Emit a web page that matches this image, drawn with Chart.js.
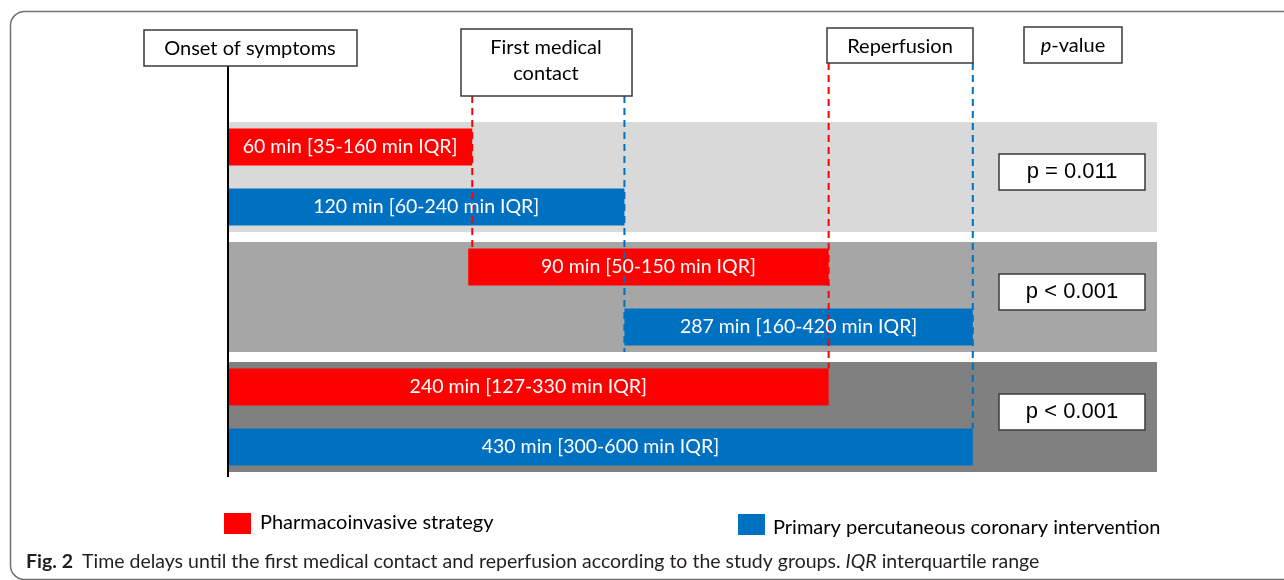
<!DOCTYPE html>
<html>
<head>
<meta charset="utf-8">
<script src="https://cdn.jsdelivr.net/npm/chart.js@4.4.1/dist/chart.umd.min.js"></script>
<style>
  html, body { margin: 0; padding: 0; background: #fff; }
</style>
</head>
<body>
<canvas id="delayChart" width="1284" height="580"></canvas>
<script>
// rows of the figure, top to bottom
const rowLabels = ['PI onset-FMC', 'PPCI onset-FMC', 'PI FMC-reperfusion', 'PPCI FMC-reperfusion', 'PI onset-reperfusion', 'PPCI onset-reperfusion'];
const barTexts = ['60 min [35-160 min IQR]', '120 min [60-240 min IQR]', '90 min [50-150 min IQR]', '287 min [160-420 min IQR]', '240 min [127-330 min IQR]', '430 min [300-600 min IQR]'];

// bars on the schematic timeline (the figure is not drawn to scale)
const piBars = [[0, 61], null, [60, 150], null, [0, 150], null];
const ppciBars = [null, [0, 99], null, [99, 186], null, [0, 186]];

// timeline marks: onset, first medical contact, reperfusion
const markNames = ['Onset of symptoms', 'First medical contact', 'Reperfusion'];
const piMarks = [0, 61, 150];
const ppciMarks = [0, 99, 186];

// background bands, one per comparison
const bandLabels = ['Onset to first medical contact', 'First medical contact to reperfusion', 'Onset to reperfusion'];
const bandRanges = [[0, 232], [0, 232], [0, 232]];
const pValues = ['p = 0.011', 'p < 0.001', 'p < 0.001'];

const seriesNames = ['Pharmacoinvasive strategy', 'Primary percutaneous coronary intervention'];

const RED = '#ff0000';
const BLUE = '#0070c0';
const BOXFONT = 'Lato, "Open Sans", sans-serif';

function box(ctx, x, y, w, h) {
    ctx.save();
    ctx.fillStyle = '#ffffff';
    ctx.fillRect(x, y, w, h);
    ctx.strokeStyle = '#3a3a3a';
    ctx.lineWidth = 1.5;
    ctx.strokeRect(x, y, w, h);
    ctx.restore();
}

function dashed(ctx, x, y0, y1, color) {
    ctx.save();
    ctx.strokeStyle = color;
    ctx.lineWidth = 2;
    ctx.setLineDash([7, 5]);
    ctx.beginPath();
    ctx.moveTo(x, y0);
    ctx.lineTo(x, y1);
    ctx.stroke();
    ctx.restore();
}

const figurePlugin = {
    id: 'figure',
    beforeDraw(chart) {
        const ctx = chart.ctx;
        ctx.save();
        ctx.fillStyle = '#fff';
        ctx.fillRect(0, 0, chart.width, chart.height);
        // frame around the figure
        ctx.strokeStyle = '#707070';
        ctx.lineWidth = 1.5;
        ctx.beginPath();
        ctx.roundRect(10.5, 11.5, 1400, 568, 14);
        ctx.stroke();
        ctx.restore();
    },
    afterDatasetsDraw(chart) {
        const ctx = chart.ctx;
        const x = chart.scales.x;
        const yb = chart.scales.yBand;
        const area = chart.chartArea;
        const pi = chart.getDatasetMeta(1).data;
        const ppci = chart.getDatasetMeta(2).data;
        const top = el => el.y - el.height / 2;

        // dashed guides from the header boxes down to the bars
        dashed(ctx, x.getPixelForValue(piMarks[1]), 96, top(pi[2]), RED);
        dashed(ctx, x.getPixelForValue(ppciMarks[1]), 96, yb.getPixelForValue(1) + 55, BLUE);
        dashed(ctx, x.getPixelForValue(piMarks[2]), 63, top(pi[4]), RED);
        dashed(ctx, x.getPixelForValue(ppciMarks[2]), 63, top(ppci[5]), BLUE);

        // onset line
        ctx.save();
        ctx.strokeStyle = '#000';
        ctx.lineWidth = 2;
        ctx.beginPath();
        ctx.moveTo(x.getPixelForValue(piMarks[0]), 66);
        ctx.lineTo(x.getPixelForValue(piMarks[0]), area.bottom);
        ctx.stroke();
        ctx.restore();

        // labels inside the bars
        ctx.save();
        ctx.fillStyle = '#fff';
        ctx.font = '19.5px ' + BOXFONT;
        ctx.textAlign = 'center';
        ctx.textBaseline = 'middle';
        rowLabels.forEach((r, i) => {
            const el = piBars[i] ? pi[i] : ppci[i];
            ctx.fillText(barTexts[i], (el.x + el.base) / 2, el.y);
        });
        ctx.restore();

        // header boxes
        ctx.save();
        ctx.fillStyle = '#000';
        ctx.font = '20px ' + BOXFONT;
        ctx.textAlign = 'center';
        ctx.textBaseline = 'middle';
        box(ctx, 144, 30, 213, 36);
        ctx.fillText(markNames[0], 250, 49);
        box(ctx, 461, 29, 171, 67);
        ctx.fillText('First medical', 546, 48);
        ctx.fillText('contact', 546, 74);
        box(ctx, 827, 28, 146, 35);
        ctx.fillText(markNames[2], 900, 47);
        box(ctx, 1024, 27, 98, 36);
        ctx.font = 'italic 20px ' + BOXFONT;
        const pw = ctx.measureText('p').width;
        ctx.font = '20px ' + BOXFONT;
        const vw = ctx.measureText('-value').width;
        const sx = 1073 - (pw + vw) / 2;
        ctx.textAlign = 'left';
        ctx.font = 'italic 20px ' + BOXFONT;
        ctx.fillText('p', sx, 46);
        ctx.font = '20px ' + BOXFONT;
        ctx.fillText('-value', sx + pw, 46);

        // p-value boxes
        ctx.textAlign = 'center';
        ctx.font = '22px "Liberation Sans", Arial, sans-serif';
        pValues.forEach((p, i) => {
            const cy = yb.getPixelForValue(i) - 5;
            box(ctx, 999, cy - 18, 146, 36);
            ctx.fillText(p, 1072, cy);
        });

        // legend
        ctx.font = '20px ' + BOXFONT;
        ctx.textAlign = 'left';
        ctx.fillStyle = RED;
        ctx.fillRect(224, 513, 27, 21);
        ctx.fillStyle = BLUE;
        ctx.fillRect(738, 514, 27, 21);
        ctx.fillStyle = '#000';
        ctx.fillText(seriesNames[0], 260, 523);
        ctx.fillText(seriesNames[1], 773, 528);

        // caption
        ctx.textBaseline = 'alphabetic';
        ctx.fillStyle = '#231f20';
        ctx.font = 'bold 19.5px ' + BOXFONT;
        ctx.fillText('Fig. 2', 26, 568);
        let cx = 82;
        ctx.font = '19.5px ' + BOXFONT;
        const part1 = 'Time delays until the first medical contact and reperfusion according to the study groups. ';
        ctx.fillText(part1, cx, 568);
        cx += ctx.measureText(part1).width;
        ctx.font = 'italic 19.5px ' + BOXFONT;
        ctx.fillText('IQR', cx, 568);
        cx += ctx.measureText('IQR').width;
        ctx.font = '19.5px ' + BOXFONT;
        ctx.fillText(' interquartile range', cx, 568);
        ctx.restore();
    }
};

new Chart(document.getElementById('delayChart'), {
    type: 'bar',
    data: {
        labels: rowLabels,
        datasets: [
            {
                label: 'bands',
                data: bandRanges,
                yAxisID: 'yBand',
                backgroundColor: ['#d9d9d9', '#a6a6a6', '#808080'],
                barPercentage: 1,
                categoryPercentage: 0.917,
                grouped: false,
                order: 10
            },
            {
                label: seriesNames[0],
                data: piBars,
                yAxisID: 'y',
                backgroundColor: RED,
                barPercentage: 0.62,
                categoryPercentage: 1,
                grouped: false,
                order: 1
            },
            {
                label: seriesNames[1],
                data: ppciBars,
                yAxisID: 'y',
                backgroundColor: BLUE,
                barPercentage: 0.62,
                categoryPercentage: 1,
                grouped: false,
                order: 1
            }
        ]
    },
    options: {
        indexAxis: 'y',
        responsive: false,
        animation: false,
        layout: { padding: { left: 228, right: 127, top: 117, bottom: 103 } },
        scales: {
            x: { type: 'linear', min: 0, max: 232, display: false },
            y: { type: 'category', labels: rowLabels, offset: true, display: false },
            yBand: { type: 'category', labels: bandLabels, offset: true, display: false }
        },
        plugins: {
            legend: { display: false },
            tooltip: { enabled: false }
        }
    },
    plugins: [figurePlugin]
});
</script>
</body>
</html>
